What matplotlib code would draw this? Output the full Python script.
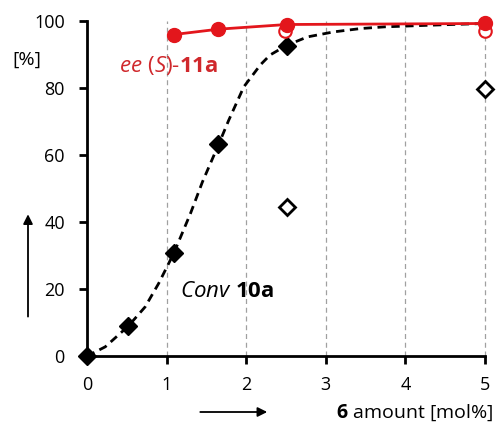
import matplotlib.pyplot as plt
from matplotlib.patches import FancyArrowPatch

# conversion of 10a (filled diamonds) and the fitted curve through it
conv_x = [0, 0.52, 1.09, 1.65, 2.51]
conv_y = [0, 9, 30.7, 63.2, 92.6]
fit_x = [0, 0.23, 0.52, 0.73, 0.90, 1.09, 1.30, 1.45, 1.65, 1.78, 1.97,
         2.18, 2.30, 2.51, 2.77, 3.10, 3.44, 3.74, 4.2, 4.58, 5.0]
fit_y = [0, 2.8, 9, 14.7, 21.7, 30.7, 42.6, 52, 63, 70.4, 80.4, 87.0, 89.9,
         92.8, 95.3, 96.8, 97.8, 98.3, 98.7, 99, 99.3]
# open diamonds
conv2_x = [2.51, 5.0]
conv2_y = [44.6, 79.7]

# ee of (S)-11a (filled and open circles)
ee_x = [1.09, 1.65, 2.51, 5.0]
ee_y = [96.0, 97.6, 99.0, 99.3]
ee2_x = [2.49, 5.0]
ee2_y = [97.1, 97.1]

RED = '#e3161c'
TXT_RED = '#d0282c'


def main():
    plt.rcParams['font.family'] = ['Open Sans', 'DejaVu Sans']
    plt.rcParams['mathtext.fontset'] = 'custom'
    plt.rcParams['mathtext.rm'] = 'Open Sans'
    plt.rcParams['mathtext.it'] = 'Open Sans:italic'
    plt.rcParams['mathtext.bf'] = 'Open Sans:bold'

    fig = plt.figure(figsize=(5, 4.23), dpi=100)
    ax = fig.add_axes([0.174, 0.158, 0.796, 0.792])

    for x in [1, 2, 3, 4, 5]:
        ax.axvline(x, color='#a0a0a0', lw=0.9, ls=(0, (4, 3)), zorder=0,
                   clip_on=False)

    ax.plot(fit_x, fit_y, color='black', lw=2, ls=(0, (3, 2)), zorder=2,
            clip_on=False)
    ax.plot(conv_x, conv_y, ls='none', marker='D', ms=9, color='black',
            zorder=4, clip_on=False)
    ax.plot(conv2_x, conv2_y, ls='none', marker='D', ms=8, mfc='white',
            mec='black', mew=2, zorder=4, clip_on=False)

    ax.plot(ee2_x, ee2_y, ls='none', marker='o', ms=9, mfc='white',
            mec=RED, mew=1.5, zorder=5, clip_on=False)
    ax.plot(ee_x, ee_y, color=RED, lw=2, marker='o', ms=10, zorder=6,
            clip_on=False)

    ax.set_xlim(0, 5)
    ax.set_ylim(0, 100)
    ax.set_xticks([0, 1, 2, 3, 4, 5])
    ax.set_yticks([0, 20, 40, 60, 80, 100])
    ax.spines['top'].set_visible(False)
    ax.spines['right'].set_visible(False)
    for s in ['left', 'bottom']:
        ax.spines[s].set_linewidth(2)
    ax.tick_params(direction='out', width=2, length=6, labelsize=13,
                   colors='black', pad=8)
    ax.tick_params(axis='y', pad=10)

    fig.text(0.238, 0.846,
             r'$\mathit{ee}\ $($\mathit{S}$)-$\mathbf{11a}$',
             color=TXT_RED, fontsize=16, ha='left', va='center')
    fig.text(0.36, 0.31, r'$\mathit{Conv}\ \mathbf{10a}$', color='black',
             fontsize=16, ha='left', va='center')
    fig.text(0.024, 0.858, '[%]', fontsize=14, ha='left', va='center')
    fig.text(0.987, 0.025, r'$\mathbf{6}\ $amount [mol%]', fontsize=14,
             ha='right', va='center')

    fig.patches.append(FancyArrowPatch(
        (0.056, 0.245), (0.056, 0.50), transform=fig.transFigure,
        arrowstyle='-|>', mutation_scale=14, color='black', lw=1.3))
    fig.patches.append(FancyArrowPatch(
        (0.395, 0.026), (0.54, 0.026), transform=fig.transFigure,
        arrowstyle='-|>', mutation_scale=14, color='black', lw=1.3))

    fig.savefig('out.png', dpi=100)


if __name__ == '__main__':
    main()
